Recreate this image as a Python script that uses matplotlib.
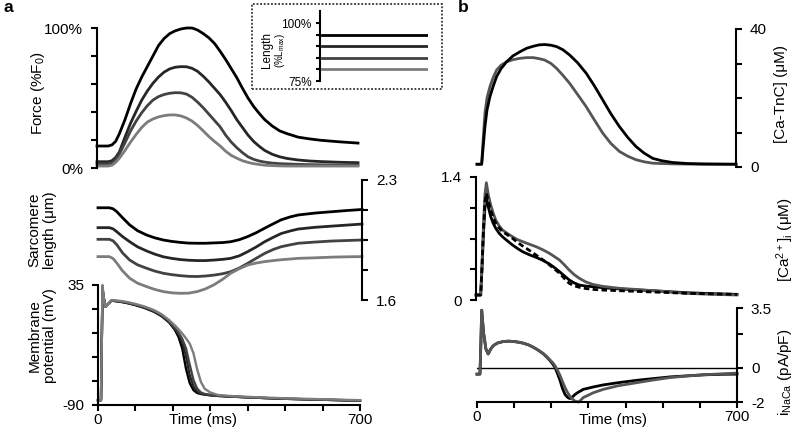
import matplotlib
matplotlib.use("Agg")
import matplotlib.pyplot as plt
from matplotlib.patches import Rectangle

plt.rcParams['font.family'] = ['Liberation Sans', 'DejaVu Sans']
plt.rcParams['mathtext.fontset'] = 'custom'
plt.rcParams['mathtext.rm'] = 'Liberation Sans'
plt.rcParams['mathtext.default'] = 'regular'

# ---- panel a data ----
LENGTHS = [95, 90, 85, 80]          # % Lmax (inset)
COLORS_A = ['#000000', '#262626', '#424242', '#7c7c7c']

T_FORCE = [0, 30, 40, 50, 60, 75, 90, 105, 120, 135, 150, 165, 180, 195, 210, 225, 240, 255,
           270, 285, 300, 315, 330, 345, 360, 375, 390, 405, 420, 435, 450, 470, 490, 510,
           540, 570, 600, 650, 700]
FORCE_1 = [15.7, 15.7, 16.5, 19, 24.5, 34.5, 46, 56.5, 65, 72.5, 80, 87.5, 92.5, 96, 98, 99.3, 100, 100,
           98.5, 96, 93, 89, 83.5, 77.5, 71, 64.5, 57, 50, 44, 39, 34.5, 30, 26.5, 24.5,
           22, 20.8, 19.8, 18.7, 17.8]
FORCE_2 = [4.5, 4.5, 5.2, 7.5, 11.5, 22, 32, 40.5, 48.5, 55, 60.5, 65, 68.5, 70.8, 72, 72.4, 72.3, 71.2,
           69, 65.5, 61.5, 57, 52.5, 47, 41, 34.5, 29, 23.5, 19, 15.5, 12.5, 9.8, 8, 6.8,
           5.7, 5, 4.6, 4.1, 3.8]
FORCE_3 = [2.9, 2.9, 3.6, 6, 10, 18, 26.5, 33.5, 39.5, 44.5, 48.5, 51, 52.5, 53.4, 53.8, 53.7, 52.8, 50.5,
           47, 43, 38.5, 34, 29.5, 23.5, 18.5, 14.5, 11, 8, 6.2, 5, 4.2, 3.5, 3.1, 2.9,
           2.6, 2.4, 2.3, 2.2, 2.1]
FORCE_4 = [1.4, 1.4, 2, 4, 7, 12.5, 18.5, 24, 29, 32.8, 35, 36.5, 37.4, 37.9, 37.9, 37.2, 35.7, 33.5,
           30.3, 26.5, 22.5, 19, 15.8, 12, 9, 7, 5.2, 4, 3.1, 2.5, 2, 1.7, 1.5, 1.4,
           1.4, 1.4, 1.4, 1.4, 1.4]

T_SL = [0, 30, 40, 50, 65, 84, 105, 129, 150, 173, 195, 218, 240, 263, 285, 307, 330, 352, 375,
        397, 420, 442, 465, 486, 510, 531, 575, 620, 660, 700]
SL_1 = [2.138, 2.138, 2.132, 2.115, 2.08, 2.038, 2.004, 1.979, 1.963, 1.95, 1.942, 1.936, 1.932, 1.931,
        1.931, 1.933, 1.935, 1.94, 1.952, 1.97, 1.993, 2.019, 2.045, 2.068, 2.085, 2.096, 2.107, 2.115,
        2.122, 2.128]
SL_2 = [2.022, 2.022, 2.015, 1.998, 1.97, 1.94, 1.91, 1.886, 1.868, 1.852, 1.843, 1.836, 1.832, 1.83,
        1.83, 1.833, 1.837, 1.843, 1.858, 1.882, 1.91, 1.94, 1.966, 1.988, 2.003, 2.014, 2.024, 2.031,
        2.037, 2.043]
SL_3 = [1.954, 1.954, 1.945, 1.922, 1.875, 1.833, 1.805, 1.785, 1.769, 1.756, 1.748, 1.742, 1.738, 1.737,
        1.74, 1.745, 1.753, 1.765, 1.787, 1.814, 1.844, 1.872, 1.895, 1.911, 1.922, 1.931, 1.938, 1.944,
        1.947, 1.95]
SL_4 = [1.853, 1.853, 1.842, 1.815, 1.77, 1.727, 1.698, 1.678, 1.662, 1.649, 1.642, 1.639, 1.64, 1.649,
        1.665, 1.688, 1.72, 1.756, 1.783, 1.804, 1.816, 1.824, 1.83, 1.835, 1.839, 1.843, 1.846, 1.85,
        1.852, 1.853]

T_VM = [0, 8, 12, 16, 20, 36, 60, 80, 100, 125, 150, 170, 190, 205, 215, 225, 235, 245, 255, 265,
        275, 285, 300, 320, 360, 400, 450, 500, 600, 700]
VM_1 = [-85, -85, 30, 20, 12.5, 18.7, 17.5, 16, 14, 11, 7, 2.5, -4, -11.5, -19, -31, -52, -67, -74.5, -77.5,
        -78.5, -79.2, -79.8, -80.5, -81.3, -82, -82.8, -83.5, -84.5, -85.5]
VM_2 = [-85, -85, 31, 20, 12.5, 18.8, 17.7, 16.2, 14.3, 11.3, 7.4, 3, -3.5, -10.5, -16, -24, -39, -59, -70.5, -76,
        -78, -79, -79.8, -80.5, -81.3, -82, -82.8, -83.5, -84.5, -85.5]
VM_3 = [-85, -85, 32, 20, 12.5, 18.9, 17.9, 16.5, 14.6, 11.7, 7.9, 3.5, -3, -9.5, -14.5, -21, -31, -48, -64, -73,
        -77, -78.5, -79.5, -80.3, -81.2, -82, -82.8, -83.5, -84.5, -85.3]
VM_4 = [-85, -85, 35, 20, 12.5, 19.2, 18.4, 17.1, 15.3, 12.5, 8.8, 4.5, -1.5, -7, -11, -15.5, -20.5, -26, -36, -53,
        -66, -73, -77, -79.5, -80.8, -81.5, -82.3, -83, -84, -85]

# ---- panel b data ----
GRAY_B = '#555555'

T_TNC = [0, 12.6, 16, 21.5, 27, 35, 44, 53, 65, 80, 97, 116, 134, 152, 168, 183, 200, 215, 232, 250,
         272, 295, 318, 340, 362, 385, 408, 430, 452, 475, 500, 529, 570, 609, 650, 700]
TNC_BLACK = [0.8, 0.8, 5, 11.7, 16.5, 20.4, 23.5, 26.2, 28.5, 30.5, 32.2, 33.4, 34.4, 35, 35.4, 35.5, 35.3,
             34.9, 34, 32.5, 30.2, 27.2, 23.4, 19.4, 15.4, 11.7, 8.5, 5.9, 4, 2.5, 1.8, 1.3, 1.0, 0.9,
             0.85, 0.8]
TNC_GRAY = [0.8, 0.8, 7, 15.6, 20, 23.3, 26, 28.1, 29.5, 30.5, 31.1, 31.5, 31.7, 31.7, 31.4, 31, 30,
            28.6, 26.6, 24.3, 21, 17.5, 13.5, 9.8, 6.8, 4.5, 3.1, 2.1, 1.5, 1.1, 1.0, 0.9, 0.85, 0.8,
            0.8, 0.8]

T_CAI = [0, 12.6, 16, 20, 24, 27.8, 33, 39.5, 46, 53, 62, 71, 85, 98, 110, 125, 143, 161, 180, 197,
         210, 224, 237, 250, 263, 277, 295, 313, 340, 385, 430, 475, 520, 565, 630, 700]
CAI_BLACK = [0.057, 0.057, 0.35, 0.75, 1.05, 1.157, 1.06, 0.948, 0.875, 0.816, 0.76, 0.72, 0.67, 0.626,
             0.59, 0.55, 0.515, 0.486, 0.45, 0.41, 0.37, 0.322, 0.275, 0.228, 0.195, 0.17, 0.158, 0.152,
             0.14, 0.125, 0.115, 0.106, 0.094, 0.083, 0.073, 0.064]
CAI_GRAY = [0.057, 0.057, 0.40, 0.85, 1.2, 1.335, 1.2, 1.081, 0.99, 0.91, 0.845, 0.797, 0.755, 0.72,
            0.69, 0.664, 0.635, 0.607, 0.57, 0.531, 0.495, 0.455, 0.4, 0.341, 0.29, 0.247, 0.205, 0.178,
            0.155, 0.133, 0.12, 0.106, 0.091, 0.076, 0.065, 0.057]
CAI_DASHED = [0.057, 0.057, 0.37, 0.8, 1.12, 1.214, 1.12, 1.024, 0.94, 0.873, 0.82, 0.778, 0.74, 0.702,
              0.66, 0.615, 0.565, 0.512, 0.455, 0.4, 0.355, 0.304, 0.245, 0.19, 0.162, 0.145, 0.13, 0.121,
              0.113, 0.106, 0.098, 0.091, 0.084, 0.076, 0.07, 0.064]

T_NACA = [0, 8, 10.5, 12.6, 18, 24, 30, 37, 44, 55, 71, 85, 98, 112, 125, 140, 152, 165, 179, 188,
          197, 204, 210, 217, 224, 230, 237, 244, 250, 257, 264, 273, 280, 286, 300, 313, 340, 380,
          430, 475, 520, 565, 610, 660, 700]
NACA_BLACK = [-0.37, -0.37, 1.5, 3.37, 2.0, 1.1, 0.81, 1.1, 1.3, 1.45, 1.54, 1.56, 1.54, 1.5, 1.44, 1.33,
              1.2, 1.03, 0.81, 0.63, 0.41, 0.22, 0.02, -0.35, -0.77, -1.2, -1.56, -1.73, -1.8, -1.7,
              -1.56, -1.42, -1.34, -1.26, -1.19, -1.12, -1.0, -0.87, -0.73, -0.63, -0.53, -0.47, -0.41,
              -0.38, -0.37]
NACA_GRAY = [-0.37, -0.37, 1.5, 3.37, 2.0, 1.1, 0.81, 1.1, 1.3, 1.45, 1.54, 1.56, 1.54, 1.5, 1.44, 1.33,
             1.2, 1.03, 0.83, 0.65, 0.45, 0.3, 0.12, -0.15, -0.47, -0.8, -1.16, -1.45, -1.66, -1.83,
             -1.95, -2.0, -1.88, -1.74, -1.6, -1.46, -1.26, -1.05, -0.87, -0.71, -0.57, -0.48, -0.41,
             -0.35, -0.31]

W, H = 797, 432
fig = plt.figure(figsize=(W / 100, H / 100), dpi=100)

FS = 11
LW = 2.0
SPINE_W = 1.5


def px_axes(x0, y0, x1, y1):
    """Add axes given pixel box (top-left origin)."""
    return fig.add_axes([x0 / W, 1 - y1 / H, (x1 - x0) / W, (y1 - y0) / H])


def px_text(x, y, s, **kw):
    fig.text(x / W, 1 - y / H, s, **kw)


def style(ax, keep):
    for side in ['left', 'right', 'top', 'bottom']:
        ax.spines[side].set_visible(side in keep)
        ax.spines[side].set_linewidth(SPINE_W)
    ax.patch.set_visible(False)
    ax.tick_params(width=SPINE_W, length=4, direction='out', labelsize=FS, pad=2)
    ax.tick_params(axis='y', pad=6)
    if 'bottom' not in keep:
        ax.set_xticks([])
    if 'left' not in keep and 'right' not in keep:
        ax.set_yticks([])


# ---------- panel a ----------
ax_f = px_axes(97, 28, 358, 168)
for vals, c in zip([FORCE_1, FORCE_2, FORCE_3, FORCE_4], COLORS_A):
    ax_f.plot(T_FORCE, vals, color=c, lw=LW, clip_on=False)
ax_f.set_xlim(0, 700)
ax_f.set_ylim(0, 100)
style(ax_f, ['left'])
ax_f.set_yticks([0, 20, 40, 60, 80, 100], ['0%', '', '', '', '', '100%'])

ax_sl = px_axes(98, 180, 362, 300)
for vals, c in zip([SL_1, SL_2, SL_3, SL_4], COLORS_A):
    ax_sl.plot(T_SL, vals, color=c, lw=LW, clip_on=False)
ax_sl.set_xlim(0, 700)
ax_sl.set_ylim(1.6, 2.3)
style(ax_sl, ['right'])
ax_sl.yaxis.tick_right()
ax_sl.set_yticks([1.6, 1.775, 1.95, 2.125, 2.3], ['1.6', '', '', '', '2.3'])

ax_v = px_axes(98, 285, 360, 405)
for vals, c in zip([VM_1, VM_2, VM_3, VM_4], COLORS_A):
    ax_v.plot(T_VM, vals, color=c, lw=LW * 0.85, clip_on=False)
ax_v.set_xlim(0, 700)
ax_v.set_ylim(-90, 35)
style(ax_v, ['left', 'bottom'])
ax_v.set_yticks([-90, -65, -40, -15, 10, 35], ['-90', '', '', '', '', '35'])
ax_v.set_xticks(range(0, 701, 100), ['0', '', '', '', '', '', '', '700'])

# inset with sarcomere lengths
ax_in = px_axes(320, 11.4, 428, 81)
for val, c in zip(LENGTHS, COLORS_A):
    ax_in.axhline(val, xmin=0.02, xmax=1, color=c, lw=LW)
ax_in.set_ylim(75, 105)
ax_in.set_xlim(0, 1)
style(ax_in, ['left'])
ax_in.set_yticks([75, 80, 85, 90, 95, 100], ['75%', '', '', '', '', '100%'])
ax_in.tick_params(labelsize=8.5, length=3, pad=3)
fig.patches.append(Rectangle((252 / W, 1 - 89 / H), 190 / W, 85 / H, transform=fig.transFigure,
                             fill=False, ec='#333333', lw=1.3, ls=(0, (1, 1))))
px_text(267, 50, 'Length', rotation=90, ha='center', va='center', fontsize=8.5)
px_text(280, 50, '(%L$_{max}$)', rotation=90, ha='center', va='center', fontsize=7)

px_text(8, 8, 'a', fontsize=12.5, fontweight='bold', ha='center', va='center')
px_text(38, 93, 'Force (%F$_0$)', rotation=90, ha='center', va='center', fontsize=FS)
px_text(42, 230, 'Sarcomere\nlength (μm)', rotation=90, ha='center', va='center',
        fontsize=FS, linespacing=1.1)
px_text(42, 336, 'Membrane\npotential (mV)', rotation=90, ha='center', va='center',
        fontsize=FS, linespacing=1.1)
px_text(203, 420, 'Time (ms)', ha='center', va='center', fontsize=FS)

# ---------- panel b ----------
ax_t = px_axes(477, 29, 736, 167)
ax_t.plot(T_TNC, TNC_GRAY, color=GRAY_B, lw=LW, clip_on=False)
ax_t.plot(T_TNC, TNC_BLACK, color='black', lw=LW, clip_on=False)
ax_t.set_xlim(0, 700)
ax_t.set_ylim(0, 40)
style(ax_t, ['right'])
ax_t.yaxis.tick_right()
ax_t.set_yticks([0, 10, 20, 30, 40], ['0', '', '', '', '40'])

ax_c = px_axes(476, 177, 737, 300)
ax_c.plot(T_CAI, CAI_BLACK, color='black', lw=LW, clip_on=False)
ax_c.plot(T_CAI, CAI_GRAY, color=GRAY_B, lw=LW, clip_on=False)
ax_c.plot(T_CAI, CAI_DASHED, color='black', lw=LW, ls=(0, (2, 1.2)), clip_on=False)
ax_c.set_xlim(0, 700)
ax_c.set_ylim(0, 1.4)
style(ax_c, ['left'])
ax_c.set_yticks([0, 0.35, 0.7, 1.05, 1.4], ['0', '', '', '', '1.4'])

ax_n = px_axes(477, 308, 737, 402)
ax_n.axhline(0, color='black', lw=1.0)
ax_n.plot(T_NACA, NACA_BLACK, color='black', lw=LW, clip_on=False)
ax_n.plot(T_NACA, NACA_GRAY, color=GRAY_B, lw=LW, clip_on=False)
ax_n.set_xlim(0, 700)
ax_n.set_ylim(-2, 3.5)
style(ax_n, ['right', 'bottom'])
ax_n.yaxis.tick_right()
ax_n.set_yticks([-2, 0, 2, 3.5], ['-2', '0', '', '3.5'])
ax_n.set_xticks(range(0, 701, 100), ['0', '', '', '', '', '', '', '700'])

px_text(463, 8, 'b', fontsize=12.5, fontweight='bold', ha='center', va='center')
px_text(781, 94, '[Ca-TnC] (μM)', rotation=90, ha='center', va='center', fontsize=FS)
px_text(785, 240, '[Ca$^{2+}$]$_i$ (μM)', rotation=90, ha='center', va='center', fontsize=FS)
px_text(785, 372, 'i$_{NaCa}$ (pA/pF)', rotation=90, ha='center', va='center', fontsize=FS)
px_text(613, 420, 'Time (ms)', ha='center', va='center', fontsize=FS)

fig.savefig('out.png', dpi=100)
